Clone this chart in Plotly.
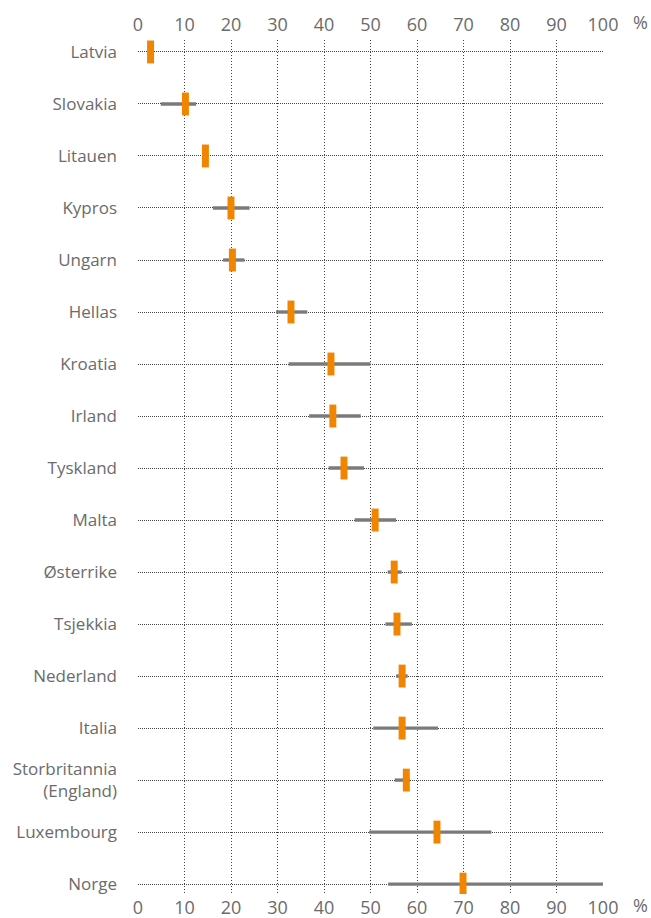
import plotly.graph_objects as go

countries = ["Latvia", "Slovakia", "Litauen", "Kypros", "Ungarn", "Hellas", "Kroatia",
             "Irland", "Tyskland", "Malta", "Østerrike", "Tsjekkia", "Nederland",
             "Italia", "Storbritannia<br>(England)", "Luxembourg", "Norge"]
share = [2.7, 10.2, 14.5, 20.0, 20.3, 32.9, 41.5, 41.9, 44.3, 51.0, 55.1, 55.7,
         56.8, 56.8, 57.7, 64.3, 69.9]
range_low = [None, 4.9, None, 16.1, 18.3, 29.7, 32.4, 36.8, 41.0, 46.6, 53.7, 53.2,
             55.5, 50.6, 55.2, 49.7, 53.8]
range_high = [None, 12.5, None, 24.0, 22.9, 36.4, 50.0, 47.9, 48.6, 55.5, 56.7, 58.9,
              58.0, 64.5, 58.5, 76.0, 100.0]
x_ticks = list(range(0, 101, 10))

ORANGE = "#F28500"
GREY_RANGE = "#7a7a7a"
GRID = "#444444"
TEXT = "#6b6b6b"
FONT = "Open Sans"

range_len = [None if lo is None else hi - lo for lo, hi in zip(range_low, range_high)]
marker_w = 1.5  # width of the value marker in axis units

fig = go.Figure()

# interval bars (grey)
fig.add_trace(go.Bar(
    y=countries, x=range_len, base=range_low, orientation="h",
    width=0.065, marker=dict(color=GREY_RANGE, line=dict(width=0)),
    xaxis="x", yaxis="y", hoverinfo="skip", showlegend=False,
))

# value markers (orange), centred on each value
fig.add_trace(go.Bar(
    y=countries, x=[marker_w] * len(share), base=[v - marker_w / 2 for v in share],
    orientation="h", width=0.44, marker=dict(color=ORANGE, line=dict(width=0)),
    xaxis="x2", yaxis="y", customdata=share,
    hovertemplate="%{y}: %{customdata}%<extra></extra>", showlegend=False,
))

axis_common = dict(
    range=[0, 100], tickvals=x_ticks, ticktext=[str(t) for t in x_ticks],
    tickfont=dict(family=FONT, size=18, color=TEXT), zeroline=False,
    showline=False, ticks="", automargin=False,
)

fig.update_layout(
    width=651, height=918,
    margin=dict(l=138, r=48, t=40, b=24),
    plot_bgcolor="white", paper_bgcolor="white",
    barmode="overlay",
    xaxis=dict(side="bottom", showgrid=True, gridcolor=GRID, griddash="1px,2px",
               gridwidth=1, ticklabelstandoff=1, **axis_common),
    xaxis2=dict(side="top", overlaying="x", showgrid=False, ticklabelstandoff=4,
                **axis_common),
    yaxis=dict(type="category", categoryorder="array", categoryarray=countries,
               range=[16.19, -0.23], showgrid=True, gridcolor=GRID,
               griddash="1px,1px", gridwidth=1, zeroline=False, showline=False,
               ticks="", ticklabelstandoff=20, automargin=False,
               tickfont=dict(family=FONT, size=17, color=TEXT)),
    annotations=[
        dict(text="%", xref="paper", yref="paper", x=1.0817, y=1.021,
             xanchor="center", yanchor="middle", showarrow=False,
             font=dict(family=FONT, size=18, color=TEXT)),
        dict(text="%", xref="paper", yref="paper", x=1.0817, y=-0.0281,
             xanchor="center", yanchor="bottom", showarrow=False, borderpad=0,
             font=dict(family=FONT, size=18, color=TEXT)),
    ],
)

fig.write_html("out.html")
